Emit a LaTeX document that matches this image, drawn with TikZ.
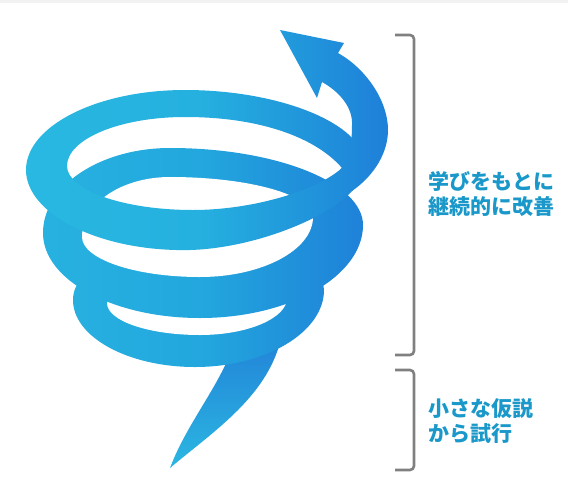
\documentclass[tikz,border=0pt]{standalone}
\usepackage{fontspec}
\newfontfamily\jp{Noto Sans CJK JP}
\definecolor{labelblue}{HTML}{1A98C9}
\definecolor{bracketgray}{HTML}{808080}
\definecolor{stripgray}{HTML}{F2F2F2}
\definecolor{sA}{HTML}{29B9E1}
\definecolor{sB}{HTML}{25B0DF}
\definecolor{sC}{HTML}{2197DB}
\definecolor{sD}{HTML}{1E7ED9}
\definecolor{dA}{HTML}{27B3E0}
\definecolor{dB}{HTML}{23A7DE}
\definecolor{dC}{HTML}{2090DA}
\definecolor{dD}{HTML}{1E7BD8}
\definecolor{tailtop}{HTML}{2282D8}
\definecolor{tailtip}{HTML}{2BB7E1}
% left-to-right ribbon gradients; the painted strip x=20..395 maps to 25bp..75bp
\pgfdeclarehorizontalshading{ribbon}{100bp}{color(0bp)=(sA); color(25bp)=(sA); color(49bp)=(sB); color(62bp)=(sC); color(75bp)=(sD); color(100bp)=(sD)}
\pgfdeclarehorizontalshading{ribbondeep}{100bp}{color(0bp)=(dA); color(25bp)=(dA); color(49bp)=(dB); color(62bp)=(dC); color(75bp)=(dD); color(100bp)=(dD)}
\tikzset{
  bracket/.style={draw=bracketgray, line width=1.3pt, rounded corners=2pt},
  phase/.style={anchor=west, inner sep=0pt, align=left, text=labelblue,
    font=\jp\bfseries\fontsize{10.5}{12.5}\selectfont},
}
\newcommand\ribbonpaint[1]{\shade[shading=#1] (20,10) rectangle (395,480);}
\begin{document}
\begin{tikzpicture}[x=0.5pt,y=-0.5pt]
\useasboundingbox (0,0) rectangle (568,483);
\fill[stripgray] (0,0) rectangle (568,3);

% tail, entering from below the lowest coil
\shade[top color=tailtop, bottom color=tailtip]
  (236,336) .. controls (225,380) and (188,420) .. (170,468)
  .. controls (215,430) and (270,395) .. (282,334) -- cycle;

% lowest coil
\begin{scope}
  \clip (73,300) .. controls (73,265) and (130,245) .. (200,245)
    .. controls (270,245) and (324,265) .. (324,290)
    .. controls (324,332) and (266,367) .. (195,367)
    .. controls (128,367) and (73,337) .. (73,300) -- cycle;
  \ribbonpaint{ribbondeep}
\end{scope}
\fill[white] (107,303) .. controls (107,321) and (149,335) .. (200,335)
  .. controls (248,335) and (287,318) .. (287,298)
  .. controls (287,285) and (250,275) .. (200,275)
  .. controls (150,275) and (107,288) .. (107,303) -- cycle;

% middle coil
\begin{scope}
  \clip (43,233) .. controls (43,186) and (100,148) .. (170,148)
    .. controls (277,148) and (363,183) .. (363,225)
    .. controls (363,276) and (290,318) .. (200,318)
    .. controls (113,318) and (43,280) .. (43,233) -- cycle;
  \ribbonpaint{ribbondeep}
\end{scope}
\fill[white] (82,237) .. controls (82,204) and (121,177) .. (170,177)
  .. controls (249,177) and (313,195) .. (313,217)
  .. controls (313,250) and (262,277) .. (200,277)
  .. controls (135,277) and (82,259) .. (82,237) -- cycle;

% top coil: outer rim clockwise, opening counter-clockwise
\begin{scope}
  \clip (26,170) .. controls (26,126) and (97,90) .. (185,90)
    .. controls (280,90) and (365,124) .. (365,165)
    .. controls (365,205) and (265,248) .. (190,250)
    .. controls (100,252) and (26,214) .. (26,170) -- cycle
    (67,166) .. controls (67,190) and (123,210) .. (193,210)
    .. controls (250,210) and (315,192) .. (342,168)
    .. controls (318,140) and (265,117) .. (185,117)
    .. controls (120,117) and (67,139) .. (67,166) -- cycle;
  \ribbonpaint{ribbon}
\end{scope}

% rising end of the top coil with its arrow head
\begin{scope}
  \clip (352,191) .. controls (375,175) and (388,152) .. (388,130)
    .. controls (388,100) and (365,68) .. (338,53)
    -- (344,43) -- (280,30) -- (317,98) -- (322,82)
    .. controls (340,92) and (353,108) .. (352,125)
    .. controls (352,142) and (350,158) .. (340,170)
    -- (330,186) -- cycle;
  \ribbonpaint{ribbon}
\end{scope}

% phase brackets and labels
\draw[bracket] (395,35) -- (414,35) -- (414,355) -- (395,355);
\draw[bracket] (395,370) -- (414,370) -- (414,470) -- (395,470);
\node[phase] (learn) at (428,194) {学びをもとに\\継続的に改善};
\node[phase] (start) at (428,421) {小さな仮説\\から試行};
\end{tikzpicture}
\end{document}
